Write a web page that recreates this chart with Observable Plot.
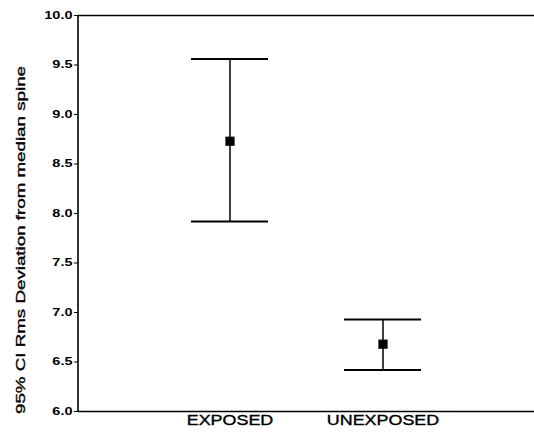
<!DOCTYPE html>
<html>
<head>
<meta charset="utf-8">
<script src="https://cdn.jsdelivr.net/npm/d3@7"></script>
<script src="https://cdn.jsdelivr.net/npm/@observablehq/plot@0.6"></script>
<style>
  html, body { margin: 0; padding: 0; background: #fff; }
  #chart svg { display: block; }
</style>
</head>
<body>
<div id="chart"></div>
<script>
const groups = ["EXPOSED", "UNEXPOSED"];
const means  = [8.73, 6.68];
const lowers = [7.92, 6.42];
const uppers = [9.56, 6.93];
const yTicks = [6.0, 6.5, 7.0, 7.5, 8.0, 8.5, 9.0, 9.5, 10.0];
const yTitle = "95% CI Rms Deviation from median spine";

const data = groups.map((g, i) => ({group: g, mean: means[i], lo: lowers[i], hi: uppers[i]}));

const chart = Plot.plot({
  width: 534,
  height: 441,
  marginLeft: 78,
  marginRight: 0,
  marginTop: 15,
  marginBottom: 30,
  style: {fontFamily: "'Liberation Sans', Arial, sans-serif", color: "#000", background: "#fff"},
  x: {type: "band", domain: groups, paddingInner: 0.5, paddingOuter: 0.74, label: null},
  y: {domain: [6, 10], label: null},
  marks: [
    Plot.ruleY([6, 10], {stroke: "#000", strokeWidth: 1.6}),
    Plot.axisY({ticks: yTicks, tickFormat: d3.format(".1f"), tickSize: 4, tickPadding: 2, fontSize: 10, fontWeight: "bold", label: null}),
    Plot.axisX({tickSize: 0, tickPadding: 4, fontSize: 14, label: null}),
    Plot.ruleX(data, {x: "group", y1: "lo", y2: "hi", stroke: "#000", strokeWidth: 1.5}),
    Plot.tickY(data, {x: "group", y: "hi", stroke: "#000", strokeWidth: 2}),
    Plot.tickY(data, {x: "group", y: "lo", stroke: "#000", strokeWidth: 2}),
    Plot.dot(data, {x: "group", y: "mean", symbol: "square", r: 5.2, fill: "#000", stroke: "none"})
  ]
});

const svg = d3.select(chart);
// left axis line along the y scale's range
const yr = chart.scale("y").range;
const xr = chart.scale("x").range;
svg.append("line")
  .attr("x1", xr[0]).attr("x2", xr[0])
  .attr("y1", yr[0]).attr("y2", yr[1])
  .attr("stroke", "#000").attr("stroke-width", 1.6);

svg.selectAll('g[aria-label="x-axis tick label"] text').each(function() {
  const t = this.getAttribute("transform") || "";
  this.setAttribute("transform", t + " scale(1.28,1)");
}).attr("stroke", "#000").attr("stroke-width", 0.35);
svg.selectAll('g[aria-label="y-axis tick label"] text').each(function() {
  const t = this.getAttribute("transform") || "";
  this.setAttribute("transform", t + " scale(1.45,1)");
});
svg.append("text")
  .attr("transform", "translate(25,240) rotate(-90) scale(1.39,1)")
  .attr("text-anchor", "middle")
  .attr("font-size", 13.5)
  .attr("fill", "#000")
  .attr("stroke", "#000")
  .attr("stroke-width", 0.35)
  .text(yTitle);

document.getElementById("chart").appendChild(chart);
</script>
</body>
</html>
